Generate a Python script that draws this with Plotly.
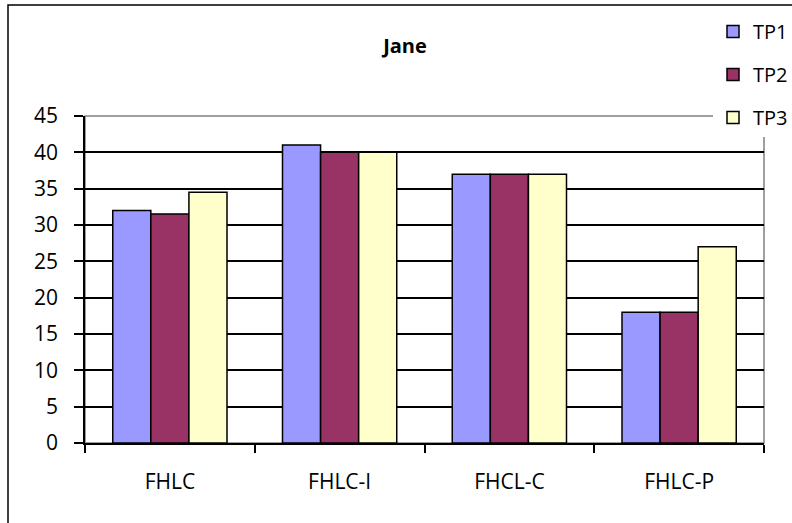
import plotly.graph_objects as go

categories = ["FHLC", "FHLC-I", "FHCL-C", "FHLC-P"]
tp1 = [32, 41, 37, 18]
tp2 = [31.5, 40, 37, 18]
tp3 = [34.5, 40, 37, 27]
series = [("TP1", tp1, "#9999FF"), ("TP2", tp2, "#993366"), ("TP3", tp3, "#FFFFCC")]

W, H = 792, 523
L, R, T, B = 85, 28, 116, 80
pw, ph = W - L - R, H - T - B

def px_x(x):
    return (x - L) / pw

def px_y(y):
    return (H - B - y) / ph

FONT = "Open Sans"

fig = go.Figure()
for name, vals, col in series:
    fig.add_trace(go.Bar(
        x=categories, y=vals, name=name, legendgroup=name,
        marker=dict(color=col, line=dict(color="black", width=1.5)),
    ))

fig.update_layout(
    width=W, height=H,
    margin=dict(l=L, r=R, t=T, b=B, autoexpand=False),
    paper_bgcolor="white", plot_bgcolor="white",
    barmode="group", bargap=0.327, bargroupgap=0,
    font=dict(family=FONT, size=21, color="black"),
    title=dict(text="<b>Jane</b>", x=405 / W, xanchor="center",
               y=1 - 46 / H, yanchor="middle", yref="container",
               font=dict(family=FONT, size=20, color="black")),
    legend=dict(x=px_x(713), xanchor="left", y=px_y(12), yanchor="top",
                bgcolor="white", borderwidth=0, tracegroupgap=14,
                font=dict(family=FONT, size=20), itemwidth=30),
    showlegend=True,
)
fig.update_yaxes(range=[0, 45], dtick=5, showgrid=True, gridcolor="black", gridwidth=1.5,
                 showline=True, linecolor="black", linewidth=1.5,
                 ticks="outside", ticklen=9, tickcolor="black", tickwidth=1.5,
                 ticklabelstandoff=12, zeroline=False,
                 tickfont=dict(family=FONT, size=21))
fig.update_xaxes(showline=True, linecolor="black", linewidth=1.5,
                 ticks="outside", ticklen=8, tickcolor="black", tickwidth=1.5,
                 tickson="boundaries", ticklabelstandoff=19,
                 tickfont=dict(family=FONT, size=21))

# plot-area frame (grey top and right edges) and chart outer frame
fig.add_shape(type="rect", xref="paper", yref="paper", x0=0, x1=1, y0=0, y1=1,
              line=dict(color="#808080", width=1.5), layer="below")
fig.add_shape(type="rect", xref="paper", yref="paper",
              x0=px_x(8), x1=px_x(830), y0=px_y(560), y1=px_y(5),
              line=dict(color="black", width=1.5), layer="below")

fig.write_html("out.html")
